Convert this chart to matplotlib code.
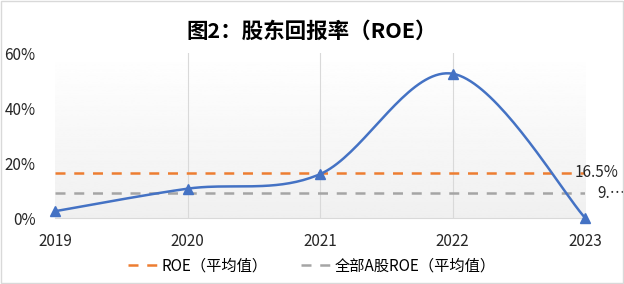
import numpy as np
import matplotlib.pyplot as plt

plt.rcParams['font.family'] = ['Noto Sans CJK SC', 'DejaVu Sans']

# 数据
years = [2019, 2020, 2021, 2022, 2023]
roe = [0.025, 0.107, 0.16, 0.525, 0.0]
roe_avg = 0.165
a_share_avg = 0.091
yticks = [0, 0.2, 0.4, 0.6]
ytick_labels = ['0%', '20%', '40%', '60%']

blue = '#4472C4'
orange = '#ED7D31'
gray = '#A5A5A5'


# 平滑曲线 (类似Excel的平滑线)
def smooth(x, y, n=40):
    x = np.asarray(x, float)
    y = np.asarray(y, float)
    px = np.concatenate([[x[0]], x, [x[-1]]])
    py = np.concatenate([[y[0]], y, [y[-1]]])
    xs, ys = [], []
    for i in range(1, len(px) - 2):
        p0, p1, p2, p3 = (np.array([px[j], py[j]]) for j in range(i - 1, i + 3))
        c1 = p1 + (p2 - p0) / 6
        c2 = p2 - (p3 - p1) / 6
        t = np.linspace(0, 1, n)[:, None]
        b = (1 - t) ** 3 * p1 + 3 * (1 - t) ** 2 * t * c1 + 3 * (1 - t) * t ** 2 * c2 + t ** 3 * p2
        xs.extend(b[:, 0])
        ys.extend(b[:, 1])
    return np.array(xs), np.array(ys)


fig = plt.figure(figsize=(6.24, 2.84), dpi=100)
ax = fig.add_axes([0.088, 0.232, 0.85, 0.581])

# 渐变背景
grad = np.linspace(1.0, 0.94, 256)[:, None]
ax.imshow(grad, cmap='gray', vmin=0, vmax=1, aspect='auto',
          extent=[years[0], years[-1], 0, 0.6], zorder=0)

for yr in years[1:-1]:
    ax.axvline(yr, color='#D9D9D9', lw=0.8, zorder=1)

ax.axhline(roe_avg, color=orange, lw=1.8, ls=(0, (4, 3.5)), zorder=2, label='ROE（平均值）')
ax.axhline(a_share_avg, color=gray, lw=1.8, ls=(0, (4, 3.5)), zorder=2, label='全部A股ROE（平均值）')

sx, sy = smooth(years, roe)
ax.plot(sx, sy, color=blue, lw=1.8, zorder=3, clip_on=False)
ax.plot(years, roe, ls='none', marker='^', ms=7, color=blue, zorder=4, clip_on=False)

ax.text(2022.92, roe_avg, '16.5%', fontsize=11, va='center', ha='left', color='#262626')
ax.text(2023.09, a_share_avg, '9.…', fontsize=11, va='center', ha='left', color='#262626')

ax.set_xlim(years[0], years[-1])
ax.set_ylim(0, 0.6)
ax.set_xticks(years)
ax.set_xticklabels([str(y) for y in years], fontsize=11)
ax.set_yticks(yticks)
ax.set_yticklabels(ytick_labels, fontsize=11)
ax.tick_params(length=0, pad=11, colors='#262626')
ax.tick_params(axis='y', pad=14)
for s in ['top', 'right', 'left']:
    ax.spines[s].set_visible(False)
ax.spines['bottom'].set_color('#D9D9D9')

fig.text(0.5, 0.89, '图2：股东回报率（ROE）', ha='center', va='center',
         fontsize=15.5, fontweight='bold')

fig.legend(loc='center', bbox_to_anchor=(0.5, 0.063), ncol=2, frameon=False,
           fontsize=11, handlelength=2.0, columnspacing=2.2, handletextpad=0.2)

# 外框
fig.patches.append(plt.Rectangle((0.001, 0.002), 0.997, 0.995, transform=fig.transFigure,
                                 fill=False, edgecolor='#D9D9D9', lw=1))

fig.savefig('out.png', dpi=100)
